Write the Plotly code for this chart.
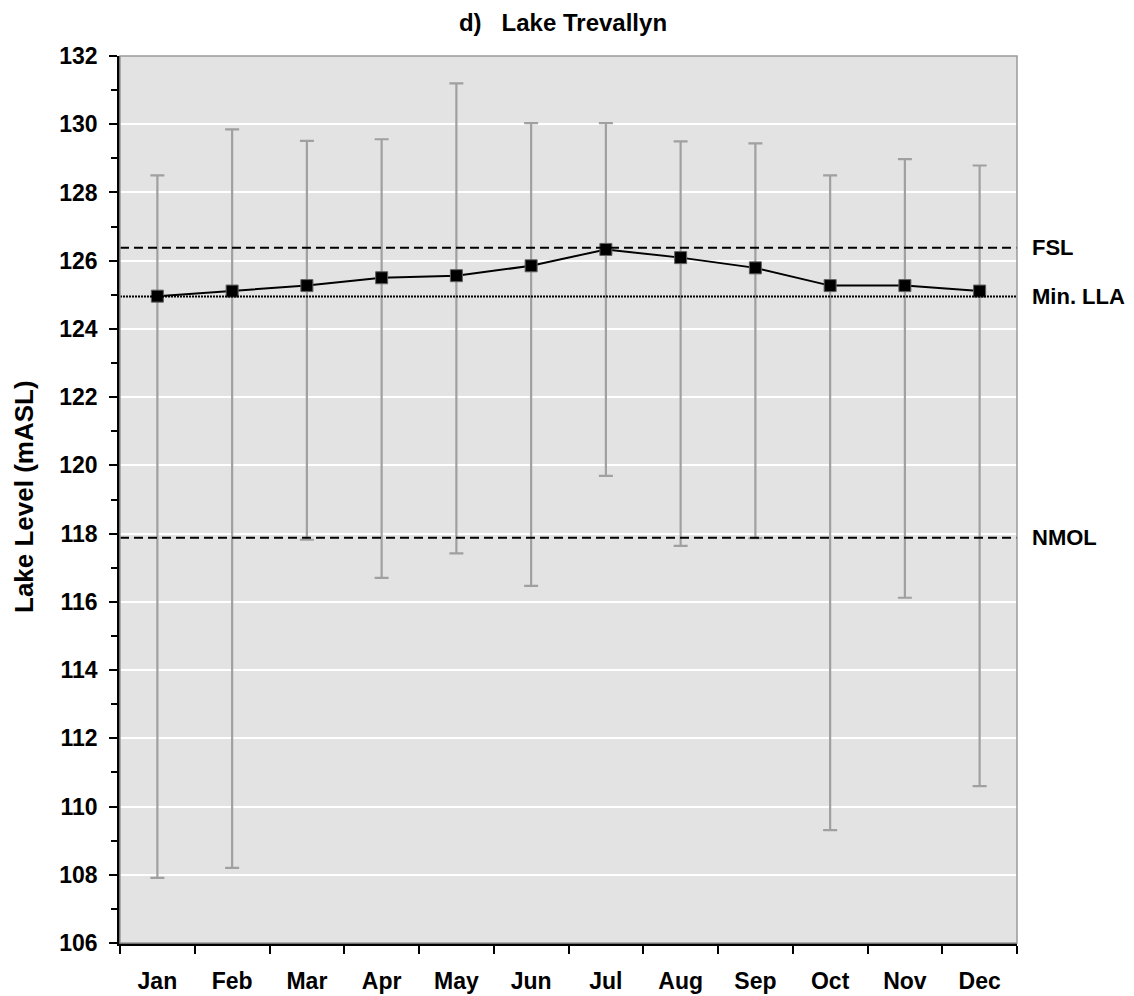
import plotly.graph_objects as go

months = ["Jan", "Feb", "Mar", "Apr", "May", "Jun", "Jul", "Aug", "Sep", "Oct", "Nov", "Dec"]
mean_level = [124.96, 125.11, 125.27, 125.50, 125.56, 125.85, 126.33, 126.09, 125.79, 125.27, 125.27, 125.11]
max_level = [128.50, 129.85, 129.51, 129.56, 131.20, 130.03, 130.03, 129.50, 129.44, 128.50, 128.98, 128.79]
min_level = [107.91, 108.20, 117.82, 116.70, 117.42, 116.47, 119.69, 117.64, 117.87, 109.31, 116.12, 110.60]

ref_names = ["FSL", "Min. LLA", "NMOL"]
ref_levels = [126.38, 124.95, 117.88]
ref_dash = ["9px,5px", "2px,1px", "9px,5px"]

FONT = "Liberation Sans, Arial, sans-serif"
OFF = 8  # page body margin offset compensation

err_plus = [mx - m for mx, m in zip(max_level, mean_level)]
err_minus = [m - mn for m, mn in zip(mean_level, min_level)]

fig = go.Figure()

for name, lvl, dash in zip(ref_names, ref_levels, ref_dash):
    fig.add_shape(type="line", xref="paper", yref="y", x0=0, x1=1, y0=lvl, y1=lvl,
                  line=dict(color="black", width=2, dash=dash), layer="above")
    fig.add_annotation(xref="paper", yref="y", x=1, y=lvl, xanchor="left", yanchor="middle",
                       xshift=13, text=name, showarrow=False,
                       font=dict(family=FONT, size=22, color="black", weight="bold"))

fig.add_trace(go.Scatter(
    x=months, y=mean_level, mode="lines+markers",
    line=dict(color="black", width=2),
    marker=dict(symbol="square", size=12, color="black", line=dict(color="#606060", width=1)),
    error_y=dict(type="data", symmetric=False, array=err_plus, arrayminus=err_minus,
                 color="#a0a0a0", thickness=2.2, width=7),
    showlegend=False,
))

fig.add_shape(type="rect", xref="paper", yref="paper", x0=0, x1=1, y0=0, y1=1,
              line=dict(color="#9a9a9a", width=1.5), layer="above")

fig.add_annotation(xref="paper", yref="paper", x=0, y=(943 - 497) / 887, xshift=-96,
                   xanchor="center", yanchor="middle",
                   text="Lake Level (mASL)", textangle=-90, showarrow=False,
                   font=dict(family=FONT, size=26, color="black", weight="bold"))

fig.update_layout(
    width=1134, height=996,
    margin=dict(l=120 - OFF, r=117 + OFF, t=56 - OFF, b=53 + OFF, autoexpand=False),
    paper_bgcolor="white", plot_bgcolor="#e3e3e3",
    title=dict(text="d)\u00a0\u00a0\u00a0Lake Trevallyn", x=(563 - OFF) / 1134, xanchor="center",
               y=1 - (23 - OFF) / 996, yanchor="middle",
               font=dict(family=FONT, size=24, color="black", weight="bold")),
    font=dict(family=FONT, color="black"),
)

fig.update_xaxes(
    type="category", range=[-0.5, 11.5], tickson="boundaries", automargin=False,
    ticks="outside", ticklen=8, tickwidth=1.5, tickcolor="black",
    showline=True, linecolor="black", linewidth=2.5, showgrid=False, zeroline=False,
    tickfont=dict(family=FONT, size=23, color="black", weight="bold"),
    ticklabelstandoff=16,
)

fig.update_yaxes(
    range=[106, 132], dtick=2, tick0=106, automargin=False,
    ticks="outside", ticklen=8, tickwidth=1.5, tickcolor="black",
    showline=True, linecolor="black", linewidth=2.5,
    showgrid=True, gridcolor="white", gridwidth=2, zeroline=False,
    minor=dict(dtick=1, ticks="outside", ticklen=6, tickcolor="black", tickwidth=1.5, showgrid=False),
    tickfont=dict(family=FONT, size=23, color="black", weight="bold"),
    ticklabelstandoff=7,
)

fig.write_html("out.html")
